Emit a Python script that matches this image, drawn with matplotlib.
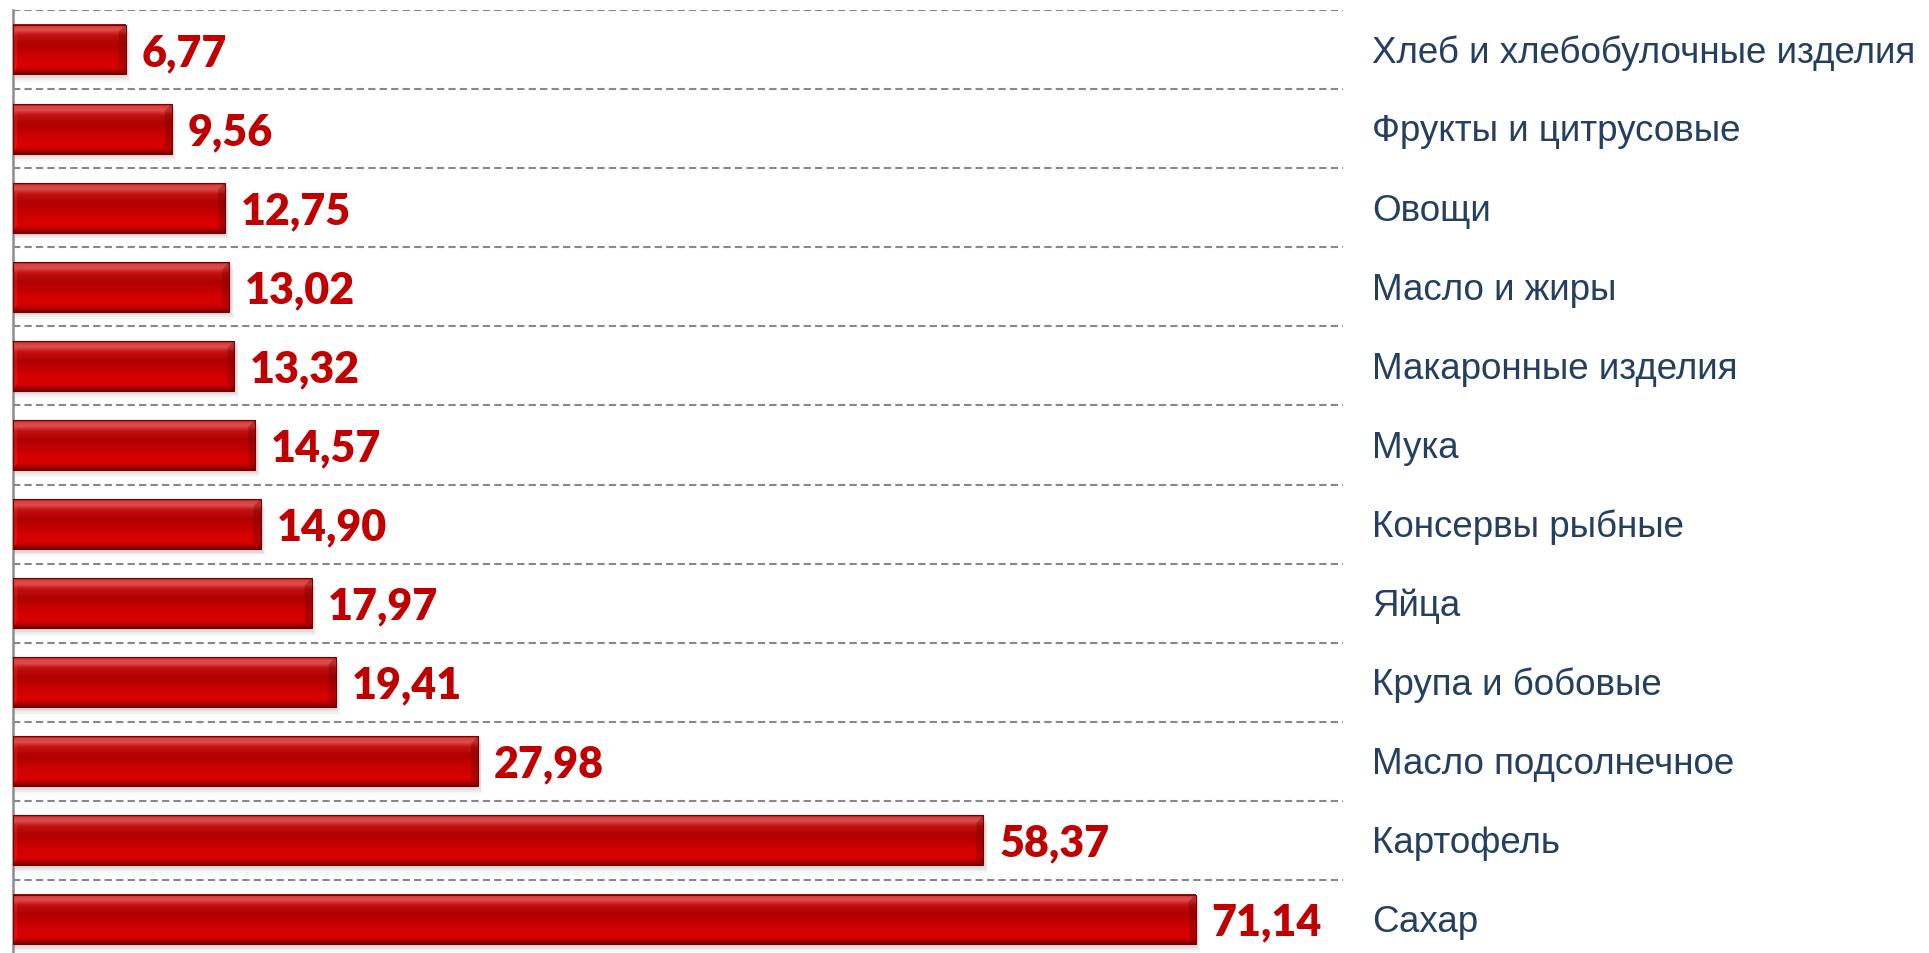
import numpy as np
import matplotlib
matplotlib.use("Agg")
import matplotlib.pyplot as plt
import matplotlib.transforms as mtransforms
from matplotlib.colors import to_rgb
from matplotlib.patches import Rectangle, Polygon

categories = [
    "Хлеб и хлебобулочные изделия",
    "Фрукты и цитрусовые",
    "Овощи",
    "Масло и жиры",
    "Макаронные изделия",
    "Мука",
    "Консервы рыбные",
    "Яйца",
    "Крупа и бобовые",
    "Масло подсолнечное",
    "Картофель",
    "Сахар",
]
values = [6.77, 9.56, 12.75, 13.02, 13.32, 14.57, 14.90, 17.97, 19.41, 27.98, 58.37, 71.14]

BAR_H = 0.63
XMAX = 80
W, H = 1929, 954

# vertical gradient of the bevelled bar, top -> bottom
stops = [
    (0.00, "#8a0000"),
    (0.04, "#d84040"),
    (0.12, "#e04c4c"),
    (0.22, "#c01010"),
    (0.40, "#b00000"),
    (0.75, "#d80000"),
    (0.87, "#d60000"),
    (0.93, "#b00000"),
    (1.00, "#7a0000"),
]


def gradient_column(n=200):
    pos = np.array([s[0] for s in stops])
    cols = np.array([to_rgb(s[1]) for s in stops])
    t = np.linspace(0, 1, n)
    out = np.stack([np.interp(t, pos, cols[:, k]) for k in range(3)], axis=1)
    return out[:, None, :]


def fmt(v):
    return f"{v:.2f}".replace(".", ",")


fig = plt.figure(figsize=(W / 100, H / 100), dpi=100)
left_px, right_px, top_px, bot_px = 13, 1343, 11, 960
ax = fig.add_axes([left_px / W, (H - bot_px) / H,
                   (right_px - left_px) / W, (bot_px - top_px) / H])

n = len(categories)
ax.set_xlim(0, XMAX)
ax.set_ylim(n - 0.5, -0.5)

grad = gradient_column()
bx = 7 / 16.64      # bevel width in data units
by = 7 / 79.0       # bevel height in data units

for i, v in enumerate(values):
    top = i - BAR_H / 2
    bot = i + BAR_H / 2
    # soft shadow
    for k, a in enumerate([0.12, 0.09, 0.06]):
        off = (k + 1) * 0.025
        ax.add_patch(Rectangle((0.1, top + off + 0.02), v + 0.05 * (k + 1), BAR_H,
                               facecolor="#808080", alpha=a, edgecolor="none", zorder=2))
    ax.imshow(grad, extent=(0, v, bot, top), aspect="auto", origin="upper",
              interpolation="bilinear", zorder=3)
    # right bevel (darker)
    ax.add_patch(Polygon([(v - bx, top + by), (v, top), (v, bot), (v - bx, bot - by)],
                         closed=True, facecolor="#700000", alpha=0.35,
                         edgecolor="none", zorder=4))
    # left bevel (lighter)
    ax.add_patch(Polygon([(0, top), (bx * 0.6, top + by), (bx * 0.6, bot - by), (0, bot)],
                         closed=True, facecolor="#ff4040", alpha=0.25,
                         edgecolor="none", zorder=4))
    ax.add_patch(Rectangle((0, top), v, BAR_H, facecolor="none",
                           edgecolor="#7a0000", linewidth=0.8, zorder=5))
    ax.text(v + 0.95, i + 0.03, fmt(v), ha="left", va="center", fontsize=31,
            fontweight="heavy", color="#c00000", family="Lato", zorder=6)

# category labels on the right
trans = mtransforms.blended_transform_factory(ax.transAxes, ax.transData)
for i, c in enumerate(categories):
    ax.text(1.0218, i + 0.03, c, transform=trans, ha="left", va="center",
            fontsize=26.5, color="#243f60", family="Liberation Sans", clip_on=False)

# dashed separators between rows
for b in np.arange(-0.5, n, 1.0):
    ax.axhline(b, color="#888888", linestyle=(0, (3.5, 2)), linewidth=1.5, zorder=1)

for s in ["top", "right", "bottom"]:
    ax.spines[s].set_visible(False)
ax.spines["left"].set_color("#8c8c8c")
ax.spines["left"].set_linewidth(1.8)
ax.set_xticks([])
ax.set_yticks([])

fig.savefig("out.png", dpi=100)
